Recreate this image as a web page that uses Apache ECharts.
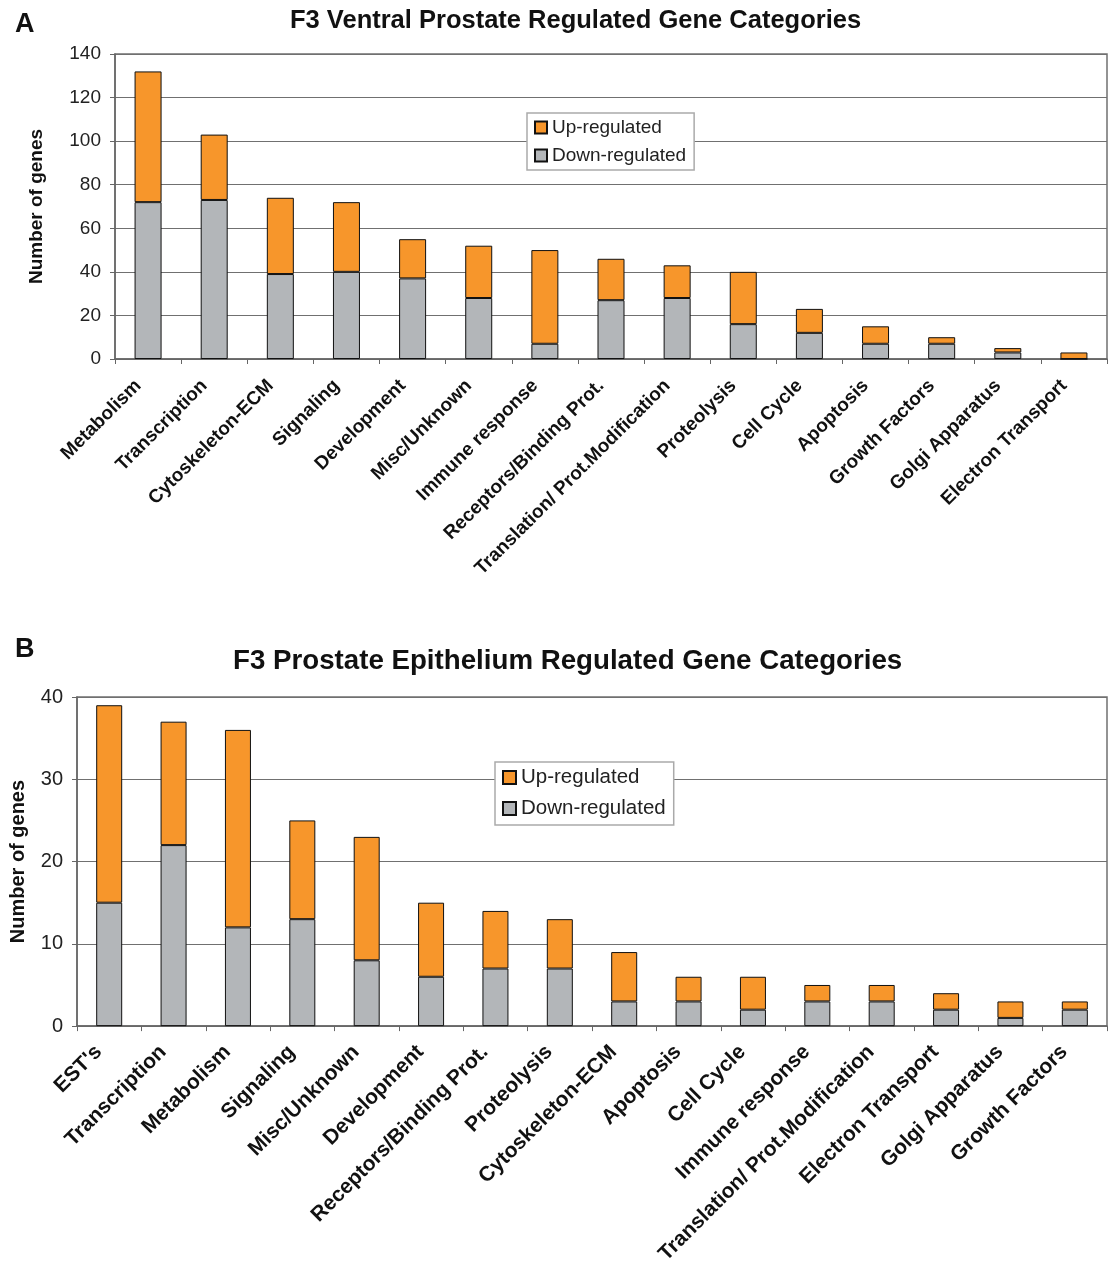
<!DOCTYPE html>
<html>
<head>
<meta charset="utf-8">
<script src="https://cdn.jsdelivr.net/npm/echarts@6/dist/echarts.min.js"></script>
<style>
html,body{margin:0;padding:0;background:#fff;}
#c{width:1109px;height:1267px;}
</style>
</head>
<body>
<div id="c"></div>
<script>
// ---- Panel A data ----
const catsA = ['Metabolism','Transcription','Cytoskeleton-ECM','Signaling','Development','Misc/Unknown','Immune response','Receptors/Binding Prot.','Translation/ Prot.Modification','Proteolysis','Cell Cycle','Apoptosis','Growth Factors','Golgi Apparatus','Electron Transport'];
const downA = [72,73,39,40,37,28,7,27,28,16,12,7,7,3,0];
const upA   = [60,30,35,32,18,24,43,19,15,24,11,8,3,2,3];
const ticksA = [0,20,40,60,80,100,120,140];

// ---- Panel B data ----
const catsB = ["EST's",'Transcription','Metabolism','Signaling','Misc/Unknown','Development','Receptors/Binding Prot.','Proteolysis','Cytoskeleton-ECM','Apoptosis','Cell Cycle','Immune response','Translation/ Prot.Modification','Electron Transport','Golgi Apparatus','Growth Factors'];
const downB = [15,22,12,13,8,6,7,7,3,3,2,3,3,2,1,2];
const upB   = [24,15,24,12,15,9,7,6,6,3,4,2,2,2,2,1];
const ticksB = [0,10,20,30,40];

const ORANGE = '#F7962B';
const GRAY = '#B3B6B9';
const FONT = 'Liberation Sans';

const chart = echarts.init(document.getElementById('c'), null, {renderer:'canvas'});

function yAxis(gridIndex, ticks, fs, nameGap, nameFs){
  return {
    type:'value', gridIndex,
    min: ticks[0], max: ticks[ticks.length-1], interval: ticks[1]-ticks[0],
    name:'Number of genes', nameLocation:'middle', nameGap,
    nameTextStyle:{fontFamily:FONT, fontWeight:'bold', fontSize:nameFs, color:'#111'},
    axisLine:{show:true, lineStyle:{color:'#666', width:1.5}},
    axisTick:{show:true, length:5, lineStyle:{color:'#666'}},
    axisLabel:{fontFamily:FONT, fontSize:fs, color:'#222', margin:14},
    splitLine:{show:true, lineStyle:{color:'#707070', width:1.2}}
  };
}
function xAxis(gridIndex, cats, fs, margin, pad){
  return {
    type:'category', gridIndex, data:cats, boundaryGap:true,
    axisLine:{show:true, lineStyle:{color:'#666', width:1.5}},
    axisTick:{show:true, interval:0, length:5, alignWithLabel:false, lineStyle:{color:'#666'}},
    axisLabel:{interval:0, rotate:45, fontFamily:FONT, fontWeight:'bold', fontSize:fs, color:'#111', margin:margin, padding:[0,pad,0,0]}
  };
}
function bar(name, data, xi, stack, color, w){
  return {
    name, type:'bar', xAxisIndex:xi, yAxisIndex:xi, stack, data, barWidth:w,
    itemStyle:{color, borderColor:'#111', borderWidth:1},
    emphasis:{disabled:true}
  };
}

chart.setOption({
  animation:false,
  textStyle:{fontFamily:FONT},
  title:[
    {text:'A', left:10, top:6, textStyle:{fontFamily:FONT, fontWeight:'bold', fontSize:27, color:'#111'}},
    {text:'F3 Ventral Prostate Regulated Gene Categories', left:285, top:3, textStyle:{fontFamily:FONT, fontWeight:'bold', fontSize:25.5, color:'#111'}},
    {text:'B', left:10, top:631, textStyle:{fontFamily:FONT, fontWeight:'bold', fontSize:27, color:'#111'}},
    {text:'F3 Prostate Epithelium Regulated Gene Categories', left:228, top:642, textStyle:{fontFamily:FONT, fontWeight:'bold', fontSize:27.7, color:'#111'}}
  ],
  legend:[
    {data:['Up-regulated','Down-regulated'], orient:'vertical', left:527, top:113,
     backgroundColor:'#fff', borderColor:'#aaa', borderWidth:1.5, padding:[5,8,5,7], itemGap:9,
     itemWidth:12, itemHeight:12, icon:'rect', selectedMode:false,
     textStyle:{fontFamily:FONT, fontSize:19, color:'#222'}},
    {data:['Up-regulated','Down-regulated'], orient:'vertical', left:495, top:762,
     backgroundColor:'#fff', borderColor:'#aaa', borderWidth:1.5, padding:[5,8,6,7], itemGap:10,
     itemWidth:13, itemHeight:13, icon:'rect', selectedMode:false,
     textStyle:{fontFamily:FONT, fontSize:20.5, color:'#222'}}
  ],
  grid:[
    {left:115, top:54, right:2, height:305, show:true, borderColor:'#707070', borderWidth:1.5, backgroundColor:'transparent'},
    {left:76, top:697, right:2, height:331, show:true, borderColor:'#707070', borderWidth:1.5, backgroundColor:'transparent'}
  ],
  xAxis:[ xAxis(0, catsA, 19, 14, 14), xAxis(1, catsB, 21, 12, 15) ],
  yAxis:[ yAxis(0, ticksA, 19, 69, 19), yAxis(1, ticksB, 20, 49, 20) ],
  series:[
    bar('Down-regulated', downA, 0, 'a', GRAY, 27),
    bar('Up-regulated', upA, 0, 'a', ORANGE, 27),
    bar('Down-regulated', downB, 1, 'b', GRAY, 26),
    bar('Up-regulated', upB, 1, 'b', ORANGE, 26)
  ]
});
</script>
</body>
</html>
